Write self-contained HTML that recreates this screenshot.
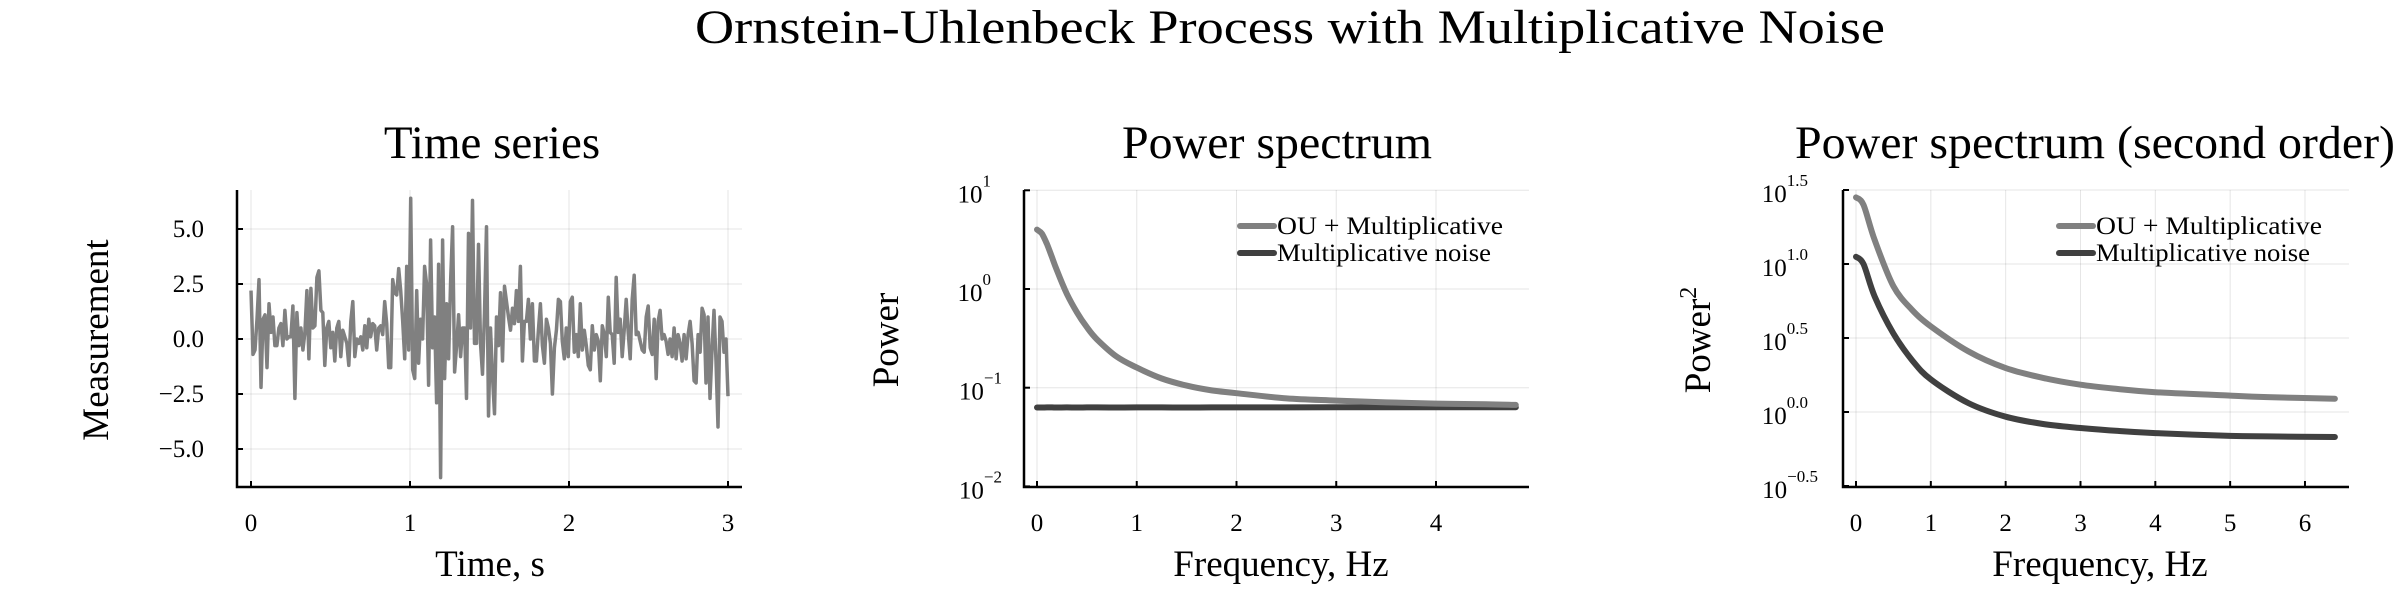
<!DOCTYPE html>
<html><head><meta charset="utf-8"><style>
html,body{margin:0;padding:0;background:#fff;}
svg text{font-family:"Liberation Serif",serif;fill:#000;}
</style></head><body>
<svg id="fig" width="2400" height="600" viewBox="0 0 2400 600" xmlns="http://www.w3.org/2000/svg">
<rect width="2400" height="600" fill="#fff"/>
<text x="1290" y="43" font-size="48" text-anchor="middle" textLength="1190" lengthAdjust="spacingAndGlyphs">Ornstein-Uhlenbeck Process with Multiplicative Noise</text>
<g id="p1"></g>
<g id="p2"></g>
<g id="p3"></g>
</svg>
<script>
// ---- Time series data ----
const tsValues=[2.2,-0.7,-0.5,0.9,2.7,-2.2,0.9,1.1,-1.3,1.6,0.3,1.0,-0.3,-0.3,0.5,0.7,-0.3,1.3,0,0.1,0.1,1.5,-2.7,1.2,-0.3,0.5,-0.5,0.3,2.2,-0.9,2.3,0.5,0.6,2.8,3.1,1.3,1.2,-1.2,0.5,0.8,-0.4,0.3,-1.0,0.5,0.8,-0.8,0.4,0.1,-0.2,-1.2,0.8,1.7,-0.8,0,-0.2,0.1,-0.5,0.6,-0.4,0.9,0.1,0.7,0.6,-0.5,0.5,0.6,0.2,1.7,0.7,-1.3,-1.3,2.7,2.1,2.0,3.2,2.2,0.8,-0.9,3.3,-0.5,6.4,-1.4,-1.8,2.2,-1.1,0.9,0,3.3,2.5,-2.1,4.5,-0.4,1.0,-2.9,3.4,-6.3,4.5,-1.8,1.6,-0.9,2.6,5.1,-1.5,-0.3,1.1,-0.8,0.5,0.5,-2.7,4.8,0.5,6.3,-0.2,-0.2,4.3,-0.2,-1.6,1.2,5.1,-3.5,0.5,-1.7,
-3.4,1.0,-0.3,2.1,-1.0,2.4,1.7,1.0,0.4,1.4,0.7,2.2,0.8,3.3,-1.0,0.8,0.8,1.8,0,1.6,-1.0,-1.0,0.4,1.6,-0.3,-1.1,0.9,0.5,-0.2,-2.5,-0.4,0.4,1.8,1.7,-0.1,-0.9,0.5,-0.8,1.7,1.9,-0.6,0.2,-0.8,1.6,-0.5,0.4,-0.3,-1.2,-1.4,0.6,-0.5,0.2,-0.1,-1.9,0.6,0.2,-0.8,1.9,0.3,0.2,-1.1,2.8,0.3,0.9,-0.8,0.4,1.8,0.3,-0.9,1.8,2.9,0.2,0.3,-0.1,-0.5,-0.6,1.0,1.5,-0.4,-0.7,0.9,-1.8,0.8,1.3,0,0.2,-0.1,-0.7,0,-0.8,0.5,-0.9,0.2,-0.2,-1.0,0.2,-0.9,0.2,0.8,-0.2,-1.9,-2.0,0.2,-0.6,1.4,1.1,-2.0,1.0,-2.7,-0.5,1.3,-1.0,-4.0,1.0,0.8,-0.6,0.0,-2.6];
const tsDuration=3.0;
const tsXTicks=[0,1,2,3];
const tsYTicks=[-5,-2.5,0,2.5,5];
const tsYTickLabels=["\u22125.0","\u22122.5","0.0","2.5","5.0"];
// ---- Power spectrum ----
const psFreq=[0,0.05,0.1,0.15,0.2,0.3,0.4,0.5,0.6,0.8,1.0,1.25,1.5,1.75,2,2.5,3,3.5,4,4.5,4.8];
const psOU=[4.0,3.63,2.85,2.10,1.54,0.89,0.58,0.41,0.31,0.206,0.16,0.124,0.105,0.094,0.088,0.078,0.074,0.071,0.069,0.068,0.067];
const psMult=[0.063,0.063,0.0632,0.0631,0.063,0.0632,0.063,0.0631,0.0632,0.063,0.0631,0.0632,0.063,0.0631,0.0632,0.0632,0.0633,0.0633,0.0634,0.0634,0.0635];
const psXTicks=[0,1,2,3,4];
const psYExps=[-2,-1,0,1];
// ---- Second order spectrum ----
const ps2Freq=[0,0.1,0.25,0.5,0.75,1,1.5,2,2.5,3,3.5,4,5,5.5,6.4];
const ps2OU=[28.2,25.1,14.5,7.08,4.9,3.79,2.57,1.98,1.70,1.53,1.43,1.36,1.29,1.26,1.23];
const ps2Mult=[11.2,10.0,6.03,3.39,2.24,1.66,1.15,0.93,0.83,0.78,0.745,0.72,0.69,0.684,0.678];
const ps2XTicks=[0,1,2,3,4,5,6];
const ps2YExps=[-0.5,0,0.5,1,1.5];

const NS="http://www.w3.org/2000/svg";
function mk(parent,tag,attrs,text){const e=document.createElementNS(NS,tag);for(const k in attrs)e.setAttribute(k,attrs[k]);if(text!==undefined)e.textContent=text;parent.appendChild(e);return e;}
function smoothPath(pts){let d="M"+pts[0][0].toFixed(1)+","+pts[0][1].toFixed(1);for(let i=0;i<pts.length-1;i++){const p0=pts[Math.max(0,i-1)],p1=pts[i],p2=pts[i+1],p3=pts[Math.min(pts.length-1,i+2)];const c1=[p1[0]+(p2[0]-p0[0])/6,p1[1]+(p2[1]-p0[1])/6],c2=[p2[0]-(p3[0]-p1[0])/6,p2[1]-(p3[1]-p1[1])/6];d+="C"+c1[0].toFixed(1)+","+c1[1].toFixed(1)+" "+c2[0].toFixed(1)+","+c2[1].toFixed(1)+" "+p2[0].toFixed(1)+","+p2[1].toFixed(1);}return d;}

const TICK=25;
function frame(g,L,R,T,B){
  const a=mk(g,'path',{d:`M${L},${T}V${B}H${R}`,stroke:'#000','stroke-width':2.5,fill:'none'});
  
  
}
function gridX(g,x,T,B){const l=mk(g,'line',{x1:x,x2:x,y1:T,y2:B,stroke:'#000','stroke-opacity':0.1,'stroke-width':1});
 const t=mk(g,'line',{x1:x,x2:x,y1:B,y2:B-6,stroke:'#000','stroke-width':2});}
function gridY(g,y,L,R){const l=mk(g,'line',{x1:L,x2:R,y1:y,y2:y,stroke:'#000','stroke-opacity':0.1,'stroke-width':1});
 const t=mk(g,'line',{x1:L,x2:L+6,y1:y,y2:y,stroke:'#000','stroke-width':2});}
function label(g,x,y,txt,size,name,rot){const t=mk(g,'text',{x:x,y:y,'font-size':size,'text-anchor':'middle'},txt);if(rot)t.setAttribute('transform',`rotate(-90 ${x} ${y})`);return t;}
function powLabel(g,xr,y,exp,name){const s=String(exp).replace('-','\u2212');const t=mk(g,'text',{x:xr,y:y+12,'font-size':TICK,'text-anchor':'end'});
 mk(t,'tspan',{},'10');mk(t,'tspan',{'font-size':17,dy:-16},s);}
function legend(g,x,y1,y2){
 const e1=mk(g,'line',{x1:x,x2:x+34,y1:y1,y2:y1,stroke:'#808080','stroke-width':6,'stroke-linecap':'round'});
 const t1=mk(g,'text',{x:x+37,y:y1+8,'font-size':25,textLength:226,lengthAdjust:'spacingAndGlyphs'},'OU + Multiplicative');
 const e2=mk(g,'line',{x1:x,x2:x+34,y1:y2,y2:y2,stroke:'#404040','stroke-width':6,'stroke-linecap':'round'});
 const t2=mk(g,'text',{x:x+37,y:y2+8,'font-size':25,textLength:214,lengthAdjust:'spacingAndGlyphs'},'Multiplicative noise');
}

// Panel 1
(function(){const g=document.getElementById('p1');const L=237,R=742,T=190,B=487;
 const xs=t=>251+t*(728-251)/3, ys=v=>339-v*22;
 tsXTicks.forEach(t=>{gridX(g,xs(t),T,B);const l=mk(g,'text',{x:xs(t),y:531,'font-size':TICK,'text-anchor':'middle'},String(t));});
 tsYTicks.forEach((v,i)=>{gridY(g,ys(v),L,R);const l=mk(g,'text',{x:204,y:ys(v)+8,'font-size':TICK,'text-anchor':'end'},tsYTickLabels[i]);});
 const dt=tsDuration/(tsValues.length-1);
 const d=tsValues.map((v,i)=>(i?'L':'M')+xs(i*dt).toFixed(1)+','+ys(v).toFixed(1)).join('');
 const p=mk(g,'path',{d:d,stroke:'#808080','stroke-width':3.5,fill:'none','stroke-linejoin':'round'});
 
 frame(g,L,R,T,B);
 label(g,492,158,'Time series',47,'panel-title');
 label(g,490,576,'Time, s',37,'x-axis-title');
 label(g,108,340,'Measurement',37,'y-axis-title',true);
})();
// Panel 2
(function(){const g=document.getElementById('p2');const L=1024,R=1529,T=190,B=487;
 const xs=f=>1037+f*99.75, ys=v=>289-Math.log10(v)*98.7;
 psXTicks.forEach(t=>{gridX(g,xs(t),T,B);const l=mk(g,'text',{x:xs(t),y:531,'font-size':TICK,'text-anchor':'middle'},String(t));});
 psYExps.forEach(e=>{const y=ys(Math.pow(10,e));gridY(g,y,L,R);powLabel(g,e<0?1002:991,y,e,'y-tick-label');});
 const p1=mk(g,'path',{d:smoothPath(psFreq.map((f,i)=>[xs(f),ys(psMult[i])])),stroke:'#404040','stroke-width':6,fill:'none','stroke-linecap':'round'});
 
 const p2=mk(g,'path',{d:smoothPath(psFreq.map((f,i)=>[xs(f),ys(psOU[i])])),stroke:'#808080','stroke-width':6,fill:'none','stroke-linecap':'round'});
 
 frame(g,L,R,T,B);
 legend(g,1240,226,253);
 const tt=label(g,1277,158,'Power spectrum',47,'panel-title');tt.setAttribute('textLength','310');tt.setAttribute('lengthAdjust','spacingAndGlyphs');
 label(g,1281,576,'Frequency, Hz',37,'x-axis-title');
 label(g,898,340,'Power',37,'y-axis-title',true);
})();
// Panel 3
(function(){const g=document.getElementById('p3');const L=1843,R=2349,T=190,B=487;
 const xs=f=>1856+f*74.83, ys=v=>412-Math.log10(v)*148;
 ps2XTicks.forEach(t=>{gridX(g,xs(t),T,B);const l=mk(g,'text',{x:xs(t),y:531,'font-size':TICK,'text-anchor':'middle'},String(t));});
 ps2YExps.forEach(e=>{const y=ys(Math.pow(10,e));gridY(g,y,L,R);powLabel(g,e<0?1818:1808,y,e.toFixed(1),'y-tick-label');});
 const p1=mk(g,'path',{d:smoothPath(ps2Freq.map((f,i)=>[xs(f),ys(ps2Mult[i])])),stroke:'#404040','stroke-width':6,fill:'none','stroke-linecap':'round'});
 
 const p2=mk(g,'path',{d:smoothPath(ps2Freq.map((f,i)=>[xs(f),ys(ps2OU[i])])),stroke:'#808080','stroke-width':6,fill:'none','stroke-linecap':'round'});
 
 frame(g,L,R,T,B);
 legend(g,2059,226,253);
 const t=label(g,2095,158,'Power spectrum (second order)',47,'panel-title');t.setAttribute('textLength','600');t.setAttribute('lengthAdjust','spacingAndGlyphs');
 label(g,2100,576,'Frequency, Hz',37,'x-axis-title');
 const yl=mk(g,'text',{x:1710,y:340,'font-size':37,'text-anchor':'middle',transform:'rotate(-90 1710 340)'});
 mk(yl,'tspan',{},'Power');mk(yl,'tspan',{'font-size':24,dy:-14},'2');
 
})();
</script>
</body></html>
